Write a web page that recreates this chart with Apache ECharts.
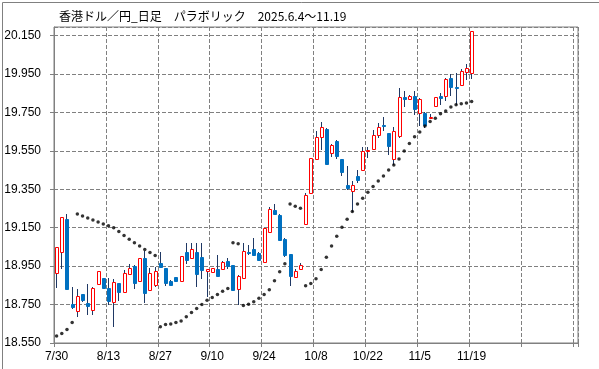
<!DOCTYPE html>
<html>
<head>
<meta charset="utf-8">
<script src="https://cdn.jsdelivr.net/npm/echarts@6/dist/echarts.min.js"></script>
<style>
html,body{margin:0;padding:0;background:#fff;}
#chart{width:599px;height:369px;}
</style>
</head>
<body>
<div id="chart"></div>
<script>
// ---- data ----
const dates = [
  '7/30','7/31','8/1','8/4','8/5','8/6','8/7','8/8','8/11','8/12',
  '8/13','8/14','8/15','8/18','8/19','8/20','8/21','8/22','8/25','8/26',
  '8/27','8/28','8/29','9/1','9/2','9/3','9/4','9/5','9/8','9/9',
  '9/10','9/11','9/12','9/15','9/16','9/17','9/18','9/19','9/22','9/23',
  '9/24','9/25','9/26','9/29','9/30','10/1','10/2','10/3','10/6','10/7',
  '10/8','10/9','10/10','10/13','10/14','10/15','10/16','10/17','10/20','10/21',
  '10/22','10/23','10/24','10/27','10/28','10/29','10/30','10/31','11/3','11/4',
  '11/5','11/6','11/7','11/10','11/11','11/12','11/13','11/14','11/17','11/18',
  '11/19'
];
const emptySlots = 20; // blank days to the right of the last candle

const open = [
  18.912,19.025,19.196,18.751,18.717,18.804,18.756,18.721,18.857,18.886,
  18.834,18.764,18.860,18.813,18.907,18.951,18.872,18.991,18.825,18.851,
  18.968,18.939,18.874,18.892,18.871,19.024,18.991,19.025,18.996,18.923,
  18.921,18.935,18.933,18.978,18.956,18.830,18.886,19.025,19.039,19.020,
  18.973,19.130,19.243,19.217,19.092,19.013,18.895,18.933,19.168,19.330,
  19.508,19.623,19.666,19.539,19.603,19.509,19.374,19.339,19.420,19.453,
  19.551,19.560,19.635,19.687,19.643,19.508,19.630,19.828,19.821,19.838,
  19.748,19.748,19.720,19.782,19.835,19.835,19.931,19.884,19.892,19.962,
  19.957
];
const high = [
  19.048,19.205,19.222,18.839,18.830,18.806,18.857,18.840,18.924,18.890,
  18.886,18.883,18.862,18.930,18.961,18.955,18.991,19.029,18.939,18.944,
  19.025,18.942,18.876,18.892,19.003,19.072,19.069,19.069,19.069,18.935,
  18.940,19.008,18.975,18.991,18.958,18.905,19.068,19.060,19.095,19.022,
  19.150,19.260,19.273,19.220,19.095,19.015,18.935,18.965,19.330,19.515,
  19.652,19.701,19.670,19.585,19.605,19.510,19.473,19.391,19.448,19.568,
  19.568,19.661,19.696,19.727,19.645,19.675,19.875,19.861,19.840,19.864,
  19.825,19.750,19.743,19.833,19.849,19.928,19.948,19.953,19.974,20.000,
  20.176
];
const low = [
  18.837,18.935,18.829,18.726,18.686,18.763,18.698,18.698,18.857,18.830,
  18.747,18.634,18.769,18.810,18.905,18.829,18.872,18.756,18.825,18.842,
  18.940,18.846,18.845,18.870,18.871,18.959,18.990,18.842,18.881,18.790,
  18.915,18.895,18.930,18.935,18.820,18.747,18.885,19.010,19.005,18.980,
  18.970,19.125,19.218,19.080,19.000,18.848,18.890,18.930,19.165,19.328,
  19.505,19.556,19.480,19.516,19.509,19.417,19.347,19.234,19.382,19.448,
  19.513,19.558,19.617,19.652,19.530,19.478,19.617,19.779,19.818,19.735,
  19.682,19.670,19.715,19.780,19.791,19.808,19.835,19.791,19.890,19.918,
  19.922
];
const close = [
  19.048,19.205,18.829,18.738,18.797,18.773,18.743,18.834,18.924,18.837,
  18.769,18.865,18.813,18.912,18.939,18.860,18.991,18.808,18.912,18.924,
  18.947,18.860,18.851,18.874,19.003,18.982,19.038,18.909,18.930,18.933,
  18.939,18.898,18.971,18.951,18.825,18.900,19.030,19.017,19.008,18.982,
  19.147,19.247,19.220,19.086,19.008,18.900,18.924,18.954,19.320,19.513,
  19.623,19.675,19.482,19.582,19.521,19.438,19.359,19.374,19.400,19.551,
  19.556,19.635,19.675,19.678,19.574,19.652,19.831,19.821,19.837,19.769,
  19.821,19.687,19.727,19.831,19.823,19.925,19.882,19.876,19.965,19.983,
  20.174
];
const sar = [
  18.587,18.599,18.620,18.657,19.222,19.211,19.201,19.190,19.180,19.170,
  19.160,19.150,19.130,19.110,19.090,19.072,19.055,19.037,19.021,19.006,
  18.634,18.646,18.649,18.657,18.665,18.686,18.709,18.730,18.751,18.773,
  18.787,18.803,18.820,18.834,19.072,19.067,18.745,18.752,18.765,18.783,
  18.803,18.827,18.874,18.921,18.963,19.273,19.262,19.251,18.848,18.860,
  18.884,18.933,18.996,19.055,19.106,19.153,19.194,19.234,19.273,19.304,
  19.335,19.365,19.393,19.419,19.450,19.476,19.508,19.550,19.588,19.624,
  19.649,19.680,19.703,19.720,19.743,19.758,19.779,19.790,19.795,19.800,
  19.807
];
const yMin = 18.55, yMax = 20.195, yStep = 0.2;
const titleText = '香港ドル／円_日足　パラボリック　2025.6.4～11.19';

// ---- build ----
const categories = dates.concat(new Array(emptySlots).fill(''));
const ohlc = dates.map((d, i) => [i, open[i], close[i], low[i], high[i]]);
const sarData = dates.map((d, i) => [i, sar[i]]);

const UP = '#ff0000', DOWN = '#0070c0', WICK = '#1f3864';
const font = "'Liberation Sans', Arial, sans-serif";

const chart = echarts.init(document.getElementById('chart'), null, {renderer: 'canvas'});
chart.setOption({
  animation: false,
  backgroundColor: '#ffffff',
  title: {
    text: titleText, left: 54, top: 5,
    textStyle: {fontSize: 12, fontWeight: 'normal', color: '#000', fontFamily: "'Noto Sans CJK JP', sans-serif"}
  },
  graphic: [{
    type: 'rect', left: 0, top: 0, silent: true,
    shape: {x: 0.5, y: 0.5, width: 598, height: 368},
    style: {fill: 'none', stroke: '#808080', lineWidth: 1}
  }],
  grid: {left: 54, top: 27, width: 524, height: 316, show: true, borderColor: '#808080', borderWidth: 1},
  xAxis: {
    type: 'category', data: categories, boundaryGap: true,
    axisLine: {show: true, lineStyle: {color: '#808080'}},
    axisTick: {show: true, interval: 9, length: 4, lineStyle: {color: '#808080'}},
    axisLabel: {interval: 9, color: '#000', fontSize: 12, margin: 8, fontFamily: font},
    splitLine: {show: true, interval: 9, lineStyle: {color: '#808080', type: [4, 2], width: 1}}
  },
  yAxis: {
    type: 'value', min: yMin, max: yMax, interval: yStep, position: 'left', scale: true,
    axisLine: {show: true, lineStyle: {color: '#808080'}},
    axisTick: {show: true, length: 4, lineStyle: {color: '#808080'}},
    axisLabel: {formatter: v => v.toFixed(3), showMaxLabel: false, color: '#000', fontSize: 12, margin: 13, fontFamily: font},
    splitLine: {show: true, lineStyle: {color: '#808080', type: [4, 2], width: 1}}
  },
  series: [
    {
      type: 'custom', data: ohlc, clip: true,
      encode: {x: 0, y: [1, 2, 3, 4]},
      renderItem: function (params, api) {
        const i = api.value(0);
        const o = api.value(1), c = api.value(2), l = api.value(3), h = api.value(4);
        const pO = api.coord([i, o]), pC = api.coord([i, c]);
        const pL = api.coord([i, l]), pH = api.coord([i, h]);
        const cx = Math.floor(pO[0]) + 0.5;
        const up = c >= o;
        let top = Math.round(Math.min(pO[1], pC[1])) + 0.5;
        let bot = Math.round(Math.max(pO[1], pC[1])) + 0.5;
        if (bot - top < 1) bot = top + 1;
        return {
          type: 'group',
          children: [
            {type: 'line', shape: {x1: cx, y1: Math.round(pH[1]), x2: cx, y2: Math.round(pL[1])},
             style: {stroke: WICK, lineWidth: 1}},
            {type: 'rect', shape: {x: cx - 1, y: top, width: 3, height: bot - top},
             style: up ? {fill: '#ffffff', stroke: UP, lineWidth: 1}
                       : {fill: DOWN, stroke: DOWN, lineWidth: 1}}
          ]
        };
      },
      z: 2
    },
    {
      type: 'scatter', data: sarData, symbol: 'circle', symbolSize: 3.5,
      itemStyle: {color: '#000'}, z: 3
    }
  ]
});
</script>
</body>
</html>
